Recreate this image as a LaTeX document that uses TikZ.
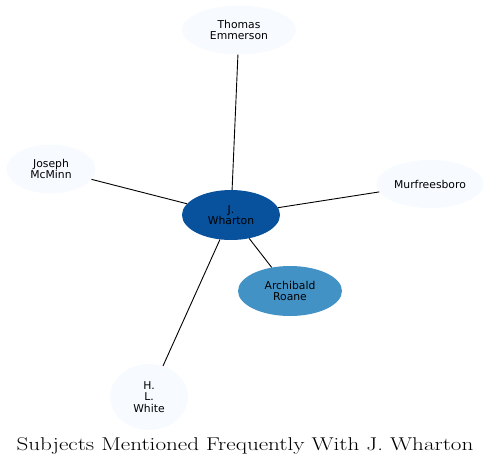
\documentclass[tikz,border=0pt]{standalone}
\usepackage{fontspec}
\usepackage{graphicx}
\usetikzlibrary{shapes.geometric}
\newfontfamily\labelfont{DejaVu Sans}
\definecolor{paleblue}{HTML}{F7FBFF}
\definecolor{midblue}{HTML}{4292C6}
\definecolor{darkblue}{HTML}{08519C}
\begin{document}
\begin{tikzpicture}[
    x=1pt, y=-1pt,
    subject/.style={ellipse, fill=paleblue, inner sep=0pt, minimum width=100pt, minimum height=49pt, align=center, font=\labelfont\fontsize{10.8}{11.6}\selectfont},
    hub/.style={subject, fill=darkblue},
    close/.style={subject, fill=midblue},
    link/.style={black, line width=0.9pt}
]
\useasboundingbox (0,0) rectangle (491,467);

% Central subject
\node[hub, minimum width=98pt, minimum height=50pt] (wharton) at (231,215) {J.\\Wharton};

% Related subjects
\node[subject, minimum width=114pt] (emmerson) at (239,30) {Thomas\\Emmerson};
\node[subject, minimum width=89pt] (mcminn) at (51,169) {Joseph\\McMinn};
\node[subject, minimum width=107pt, minimum height=48pt] (murfreesboro) at (430,184) {Murfreesboro};
\node[close, minimum width=104pt, minimum height=50pt] (roane) at (290,291) {Archibald\\Roane};
\node[subject, minimum width=78pt, minimum height=66pt] (white) at (149,397) {H.\\L.\\White};

% Connections
\draw[link] (wharton) -- (emmerson);
\draw[link] (wharton) -- (mcminn);
\draw[link] (wharton) -- (murfreesboro);
\draw[link] (wharton) -- (roane);
\draw[link] (wharton) -- (white);

% Title
\node[font=\fontsize{18.5}{21}\selectfont, anchor=base] (title) at (245,450) {\scalebox{1.25}[1]{Subjects Mentioned Frequently With J. Wharton}};

\end{tikzpicture}
\end{document}
